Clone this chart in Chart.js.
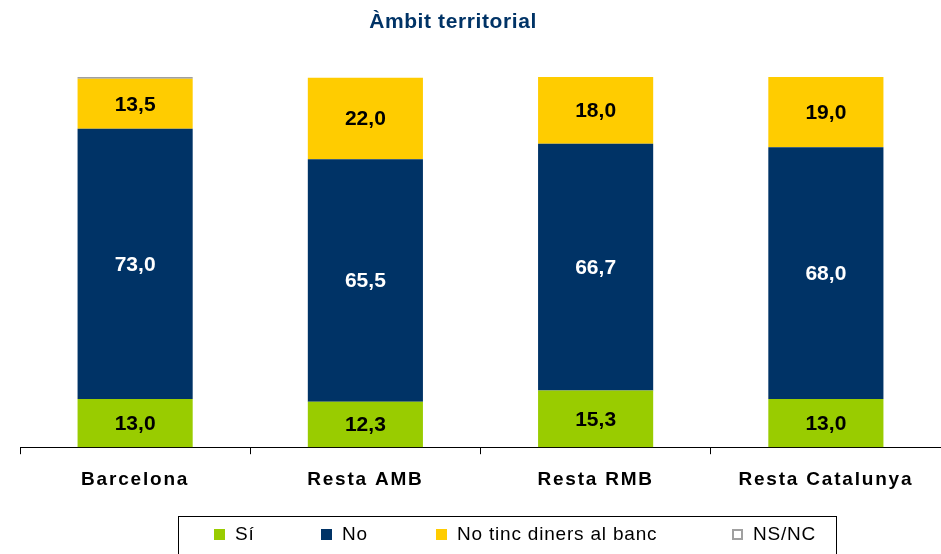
<!DOCTYPE html>
<html>
<head>
<meta charset="utf-8">
<script src="https://cdn.jsdelivr.net/npm/chart.js@4/dist/chart.umd.min.js"></script>
<style>
  html, body { margin: 0; padding: 0; background: #fff; overflow: hidden; }
  #wrap { position: relative; width: 941px; height: 554px; }
  #legend {
    position: absolute; left: 178px; top: 516px; width: 659px; height: 50px;
    border: 1px solid #000; box-sizing: border-box;
    font-family: "Liberation Sans", Arial, sans-serif; font-size: 19px; color: #000;
    letter-spacing: 0.8px;
  }
  .item { position: absolute; top: 6px; height: 22px; line-height: 22px; white-space: nowrap; }
  .sq { position: absolute; left: 0; top: 6px; width: 11px; height: 11px; box-sizing: border-box; }
  .lbl { position: absolute; left: 21px; top: 0; }
</style>
</head>
<body>
<div id="wrap">
  <canvas id="chart" width="941" height="554"></canvas>
  <div id="legend"></div>
</div>
<script>
// data
const title = "Àmbit territorial";
const categories = ["Barcelona", "Resta AMB", "Resta RMB", "Resta Catalunya"];
const seriesNames = ["Sí", "No", "No tinc diners al banc", "NS/NC"];
const si = [13.0, 12.3, 15.3, 13.0];
const no = [73.0, 65.5, 66.7, 68.0];
const noDiners = [13.5, 22.0, 18.0, 19.0];
const nsnc = [0.5, 0, 0, 0];

const colors = ["#99CC00", "#003366", "#FFCC00", "#A0A0A0"];
const font = "'Liberation Sans', Arial, sans-serif";

// value labels inside the bars + title
const labelPlugin = {
  id: "labels",
  beforeDraw(chart) {
    chart.ctx.letterSpacing = "1.8px"; // tracked category labels
  },
  beforeDatasetsDraw(chart) {
    chart.ctx.letterSpacing = "0px";
  },
  afterDatasetsDraw(chart) {
    const ctx = chart.ctx;
    ctx.save();
    ctx.letterSpacing = "0px";
    ctx.font = "bold 21px " + font;
    ctx.textAlign = "center";
    ctx.textBaseline = "middle";
    for (let d = 0; d < 3; d++) {
      const meta = chart.getDatasetMeta(d);
      meta.data.forEach((bar, i) => {
        const v = chart.data.datasets[d].data[i];
        const p = bar.getProps(["x", "y", "base"], true);
        ctx.fillStyle = d === 1 ? "#fff" : "#000";
        ctx.fillText(v.toFixed(1).replace(".", ","), p.x, (p.y + p.base) / 2 + 1);
      });
    }
    ctx.restore();
  },
  afterDraw(chart) {
    const ctx = chart.ctx;
    ctx.save();
    ctx.letterSpacing = "0.6px";
    ctx.font = "bold 21px " + font;
    ctx.fillStyle = "#003366";
    ctx.textAlign = "center";
    ctx.textBaseline = "middle";
    ctx.fillText(title, 453, 22);
    ctx.restore();
  }
};

new Chart(document.getElementById("chart"), {
  type: "bar",
  data: {
    labels: categories,
    datasets: [si, no, noDiners, nsnc].map((vals, k) => ({
      label: seriesNames[k],
      data: vals,
      backgroundColor: colors[k],
      borderWidth: 0,
      barPercentage: 0.5,
      categoryPercentage: 1.0,
    })),
  },
  options: {
    responsive: false,
    animation: false,
    devicePixelRatio: 1,
    layout: { padding: { left: 20, right: 0, top: 77, bottom: 49 } },
    plugins: {
      legend: { display: false },
      title: { display: false },
      tooltip: { enabled: false },
    },
    scales: {
      x: {
        stacked: true,
        grid: {
          display: true,
          drawOnChartArea: false,
          drawTicks: true,
          tickLength: 7,
          color: "#000",
          offset: true,
        },
        border: { display: true, color: "#000", width: 1 },
        ticks: {
          color: "#000",
          padding: 14,
          font: { family: font, size: 19, weight: "bold" },
        },
      },
      y: {
        stacked: true,
        display: false,
        min: 0,
        max: 100,
      },
    },
  },
  plugins: [labelPlugin],
});

// legend
const legendX = [35, 142, 257, 553];
const legend = document.getElementById("legend");
seriesNames.forEach((name, k) => {
  const item = document.createElement("div");
  item.className = "item";
  item.style.left = legendX[k] + "px";
  const sq = document.createElement("div");
  sq.className = "sq";
  if (k === 3) {
    sq.style.background = "#fff";
    sq.style.border = "2px solid " + colors[k];
  } else {
    sq.style.background = colors[k];
  }
  const lbl = document.createElement("span");
  lbl.className = "lbl";
  lbl.textContent = name;
  item.appendChild(sq);
  item.appendChild(lbl);
  legend.appendChild(item);
});
</script>
</body>
</html>
